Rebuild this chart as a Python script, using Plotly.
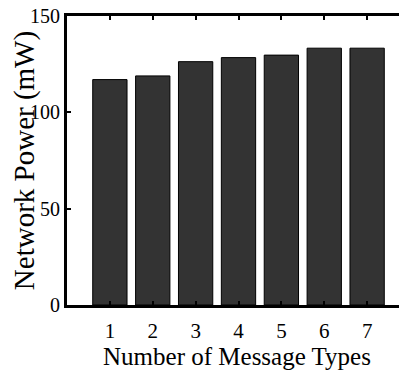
import plotly.graph_objects as go

categories = [1, 2, 3, 4, 5, 6, 7]
network_power_mw = [117.0, 118.9, 126.3, 128.4, 129.7, 133.3, 133.3]
y_tick_vals = [0, 50, 100, 150]
x_title = "Number of Message Types"
y_title = "Network Power (mW)"

font_family = "Liberation Serif"

fig = go.Figure()
fig.add_trace(go.Bar(
    x=categories,
    y=network_power_mw,
    marker=dict(color="#333333", line=dict(color="#000000", width=1)),
    width=0.8,
    showlegend=False,
))
# invisible trace to hold right-side axis ticks
fig.add_trace(go.Scatter(x=[categories[0]], y=[0], yaxis="y2", mode="markers",
                         marker=dict(opacity=0), showlegend=False, hoverinfo="skip"))

fig.update_layout(
    width=399, height=362,
    margin=dict(l=59, r=0, t=8, b=65, autoexpand=False),
    paper_bgcolor="white", plot_bgcolor="white",
    font=dict(family=font_family, color="black", size=21),
    xaxis=dict(
        range=[0, 7.93],
        tickmode="array", tickvals=categories, ticktext=[str(c) for c in categories],
        showline=True, linecolor="black", linewidth=3, mirror="ticks",
        ticks="inside", ticklen=4, tickwidth=2, tickcolor="black",
        showgrid=False, zeroline=False,
        tickfont=dict(family=font_family, size=21),
        ticklabelstandoff=5,
        ticklabeloverflow="allow",
        automargin=False,
        title=dict(text=x_title, font=dict(family=font_family, size=25), standoff=6),
    ),
    yaxis=dict(
        range=[0, 150],
        tickmode="array", tickvals=y_tick_vals,
        showline=True, linecolor="black", linewidth=3, mirror=False,
        ticks="inside", ticklen=4, tickwidth=2, tickcolor="black",
        showgrid=False, zeroline=False,
        tickfont=dict(family=font_family, size=20),
        ticklabeloverflow="allow",
        automargin=False,
        title=dict(text=y_title, font=dict(family=font_family, size=29), standoff=0),
    ),
    yaxis2=dict(
        range=[0, 150], overlaying="y", side="right",
        tickmode="array", tickvals=y_tick_vals,
        showline=False, showticklabels=False, showgrid=False, zeroline=False,
        ticks="inside", ticklen=3, tickwidth=2, tickcolor="black",
        automargin=False,
    ),
)

fig.write_html("out.html")
